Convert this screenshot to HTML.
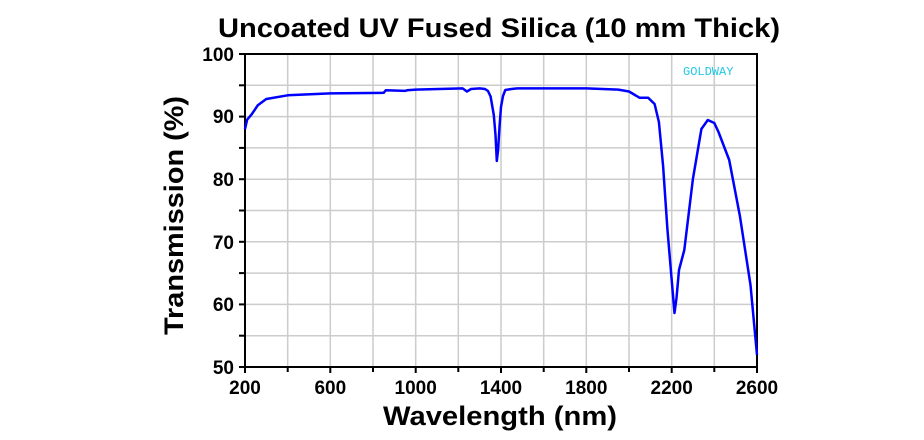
<!DOCTYPE html><html><head><style>body{margin:0;background:#fff}svg{display:block}</style></head><body>
<svg width="924" height="440" xmlns="http://www.w3.org/2000/svg" font-family="Liberation Sans, Arial, sans-serif">
<g stroke="#ccc" stroke-width="1.5">
<line x1="287.7" y1="54" x2="287.7" y2="367"/><line x1="330.3" y1="54" x2="330.3" y2="367"/><line x1="373" y1="54" x2="373" y2="367"/><line x1="415.7" y1="54" x2="415.7" y2="367"/><line x1="458.3" y1="54" x2="458.3" y2="367"/><line x1="501" y1="54" x2="501" y2="367"/><line x1="543.7" y1="54" x2="543.7" y2="367"/><line x1="586.3" y1="54" x2="586.3" y2="367"/><line x1="629" y1="54" x2="629" y2="367"/><line x1="671.7" y1="54" x2="671.7" y2="367"/><line x1="714.3" y1="54" x2="714.3" y2="367"/>
<line x1="245" y1="85.3" x2="757" y2="85.3"/><line x1="245" y1="116.6" x2="757" y2="116.6"/><line x1="245" y1="147.9" x2="757" y2="147.9"/><line x1="245" y1="179.2" x2="757" y2="179.2"/><line x1="245" y1="210.5" x2="757" y2="210.5"/><line x1="245" y1="241.8" x2="757" y2="241.8"/><line x1="245" y1="273.1" x2="757" y2="273.1"/><line x1="245" y1="304.4" x2="757" y2="304.4"/><line x1="245" y1="335.7" x2="757" y2="335.7"/>
</g>
<rect x="245" y="54" width="512" height="313" fill="none" stroke="#000" stroke-width="2"/>
<g stroke="#000" stroke-width="2">
<line x1="239" y1="54" x2="245" y2="54"/><line x1="239" y1="85.3" x2="245" y2="85.3"/><line x1="239" y1="116.6" x2="245" y2="116.6"/><line x1="239" y1="147.9" x2="245" y2="147.9"/><line x1="239" y1="179.2" x2="245" y2="179.2"/><line x1="239" y1="210.5" x2="245" y2="210.5"/><line x1="239" y1="241.8" x2="245" y2="241.8"/><line x1="239" y1="273.1" x2="245" y2="273.1"/><line x1="239" y1="304.4" x2="245" y2="304.4"/><line x1="239" y1="335.7" x2="245" y2="335.7"/><line x1="239" y1="367" x2="245" y2="367"/>
<line x1="245" y1="367" x2="245" y2="373"/><line x1="287.7" y1="367" x2="287.7" y2="372"/><line x1="330.3" y1="367" x2="330.3" y2="373"/><line x1="373" y1="367" x2="373" y2="372"/><line x1="415.7" y1="367" x2="415.7" y2="373"/><line x1="458.3" y1="367" x2="458.3" y2="372"/><line x1="501" y1="367" x2="501" y2="373"/><line x1="543.7" y1="367" x2="543.7" y2="372"/><line x1="586.3" y1="367" x2="586.3" y2="373"/><line x1="629" y1="367" x2="629" y2="372"/><line x1="671.7" y1="367" x2="671.7" y2="373"/><line x1="714.3" y1="367" x2="714.3" y2="372"/><line x1="757" y1="367" x2="757" y2="373"/>
</g>
<g font-weight="bold" font-size="19" text-anchor="end">
<text x="234" y="61">100</text><text x="234" y="123">90</text><text x="234" y="186">80</text><text x="234" y="249">70</text><text x="234" y="311">60</text><text x="234" y="374">50</text>
</g>
<g font-weight="bold" font-size="19" text-anchor="middle">
<text x="245" y="394">200</text><text x="330.3" y="394">600</text><text x="415.7" y="394">1000</text><text x="501" y="394">1400</text><text x="586.3" y="394">1800</text><text x="671.7" y="394">2200</text><text x="757" y="394">2600</text>
</g>
<text x="218" y="37" font-size="27" font-weight="bold" textLength="562" lengthAdjust="spacingAndGlyphs">Uncoated UV Fused Silica (10 mm Thick)</text>
<text x="383" y="425" font-size="27" font-weight="bold" textLength="234" lengthAdjust="spacingAndGlyphs">Wavelength (nm)</text>
<text transform="translate(183,335) rotate(-90)" font-size="27" font-weight="bold" textLength="239" lengthAdjust="spacingAndGlyphs">Transmission (%)</text>
<text x="683" y="75" font-size="12" fill="#1ec8e6" font-family="Liberation Mono, monospace">GOLDWAY</text>
<polyline fill="none" stroke="#0000ff" stroke-width="2.5" stroke-linejoin="round" points="245,129.1 247.1,119.7 251.4,114.7 257.8,105.3 266.3,99 287.7,95.3 330.3,93.4 383.7,92.8 385.8,90.3 405,90.9 407.1,90.3 415.7,89.6 462.6,88.4 466.9,91.5 471.1,89 479.7,88.4 485,89 488,91 490.6,96.5 493.8,115 495.5,135 496.8,161 498.1,150 499.5,127 501,107 503,96 505.3,90 511.6,89 517.3,88.4 586.3,88.4 618.3,89.6 629,91.5 639.7,97.8 648.2,97.8 654.6,104 658.9,122 663.1,166 667.4,229 671.7,280 674.5,313 676.5,298 679,270 684.3,250 692.9,179 701.4,129 707.8,120 714.3,123 718.5,132 729.2,160 739.9,216 750.5,285 757,355"/>
</svg></body></html>
